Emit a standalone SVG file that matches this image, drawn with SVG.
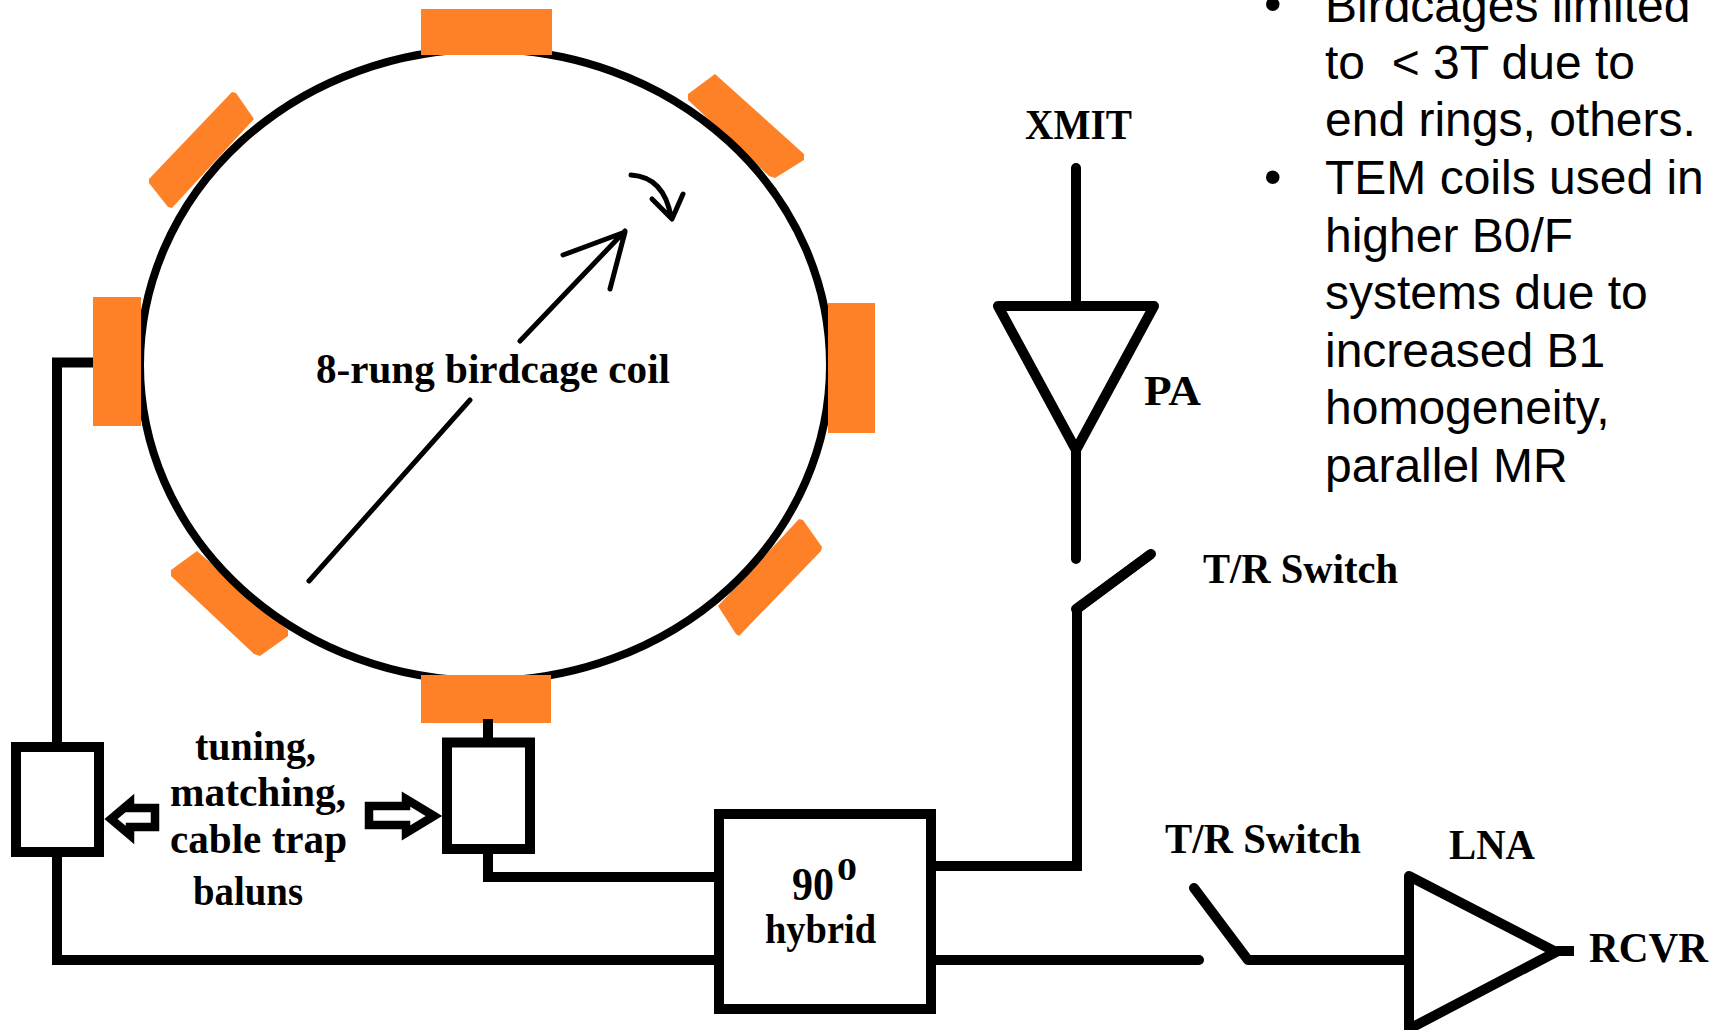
<svg xmlns="http://www.w3.org/2000/svg" width="1719" height="1030" viewBox="0 0 1719 1030">
<style>
.rung{fill:#fe8127;stroke:none}
.w{fill:none;stroke:#000;stroke-width:10;stroke-linecap:butt;stroke-linejoin:miter}
.r{stroke-linecap:round;stroke-linejoin:round}
.t{fill:none;stroke:#000;stroke-width:5;stroke-linecap:round;stroke-linejoin:round}
.box{fill:#fff;stroke:#000;stroke-width:10}
.arr{fill:#fff;stroke:#000;stroke-width:8.500;stroke-linejoin:miter}
.lb{font-family:"Liberation Serif","Times New Roman",serif;font-weight:700;font-size:43px;fill:#000}
.bl{font-family:"Liberation Sans",Arial,sans-serif;font-size:48px;fill:#000}
.bu{font-family:"Liberation Sans",Arial,sans-serif;font-size:50px;fill:#000}
</style>
<rect width="1719" height="1030" fill="#fff"/>
<g id="connectors">
<path class="w" d="M93 362.500H57V960H714"/>
<path class="w" d="M488 849V877H714"/>
<path class="w" d="M936 866H1077V609L1151 554"/>
<path class="w r" d="M1151 554L1076 609"/>
<path class="w r" d="M1076 168V306M1076 450V559"/>
<path class="w r" d="M936 960H1199"/>
<path class="w r" d="M1194 888L1248 960H1409"/>
<path class="w" d="M1556 951H1574"/>
</g>
<g id="coil">
<polygon class="rung" points="232,92 236,93 254,119 172,208 168,207 149,183 149,179"/>
<polygon class="rung" points="715,74 804,154 804,160 775,178 769,176 688,100 688,94"/>
<polygon class="rung" points="197,551 288,630 288,636 260,656 254,654 171,576 171,570"/>
<polygon class="rung" points="799,519 803,520 822,547 821,551 739,636 736,634 718,606"/>
<ellipse cx="485" cy="365" rx="345" ry="316" fill="none" stroke="#000" stroke-width="8"/>
<rect class="rung" x="421" y="9" width="131" height="46"/>
<rect class="rung" x="93" y="297" width="48" height="129"/>
<rect class="rung" x="828" y="303" width="47" height="130"/>
<rect class="rung" x="421" y="675" width="130" height="48"/>
<path class="w" d="M488 719V738"/>
<path class="t" d="M309 581L470 400M520 341L625 231M563 255L625 232L610 289"/>
<path class="t" d="M631 175Q664 177 671 217M652 199L672 219L683 194"/>
<text class="lb" x="316" y="383" textLength="354" lengthAdjust="spacingAndGlyphs">8-rung birdcage coil</text>
</g>
<g id="box-left"><rect class="box" x="16" y="747" width="83" height="105"/></g>
<g id="box-center"><rect class="box" x="447" y="742.500" width="83" height="106.500"/></g>
<g id="hybrid">
<rect class="box" x="719" y="814" width="212" height="195"/>
<text class="lb" x="792" y="900" textLength="42" lengthAdjust="spacingAndGlyphs" style="font-size:47px">90</text>
<text class="lb" x="837" y="880" textLength="20" lengthAdjust="spacingAndGlyphs" style="font-size:32px">0</text>
<text class="lb" x="765" y="943" textLength="111" lengthAdjust="spacingAndGlyphs">hybrid</text>
</g>
<g id="tuning-label">
<polygon class="arr" points="111,819 130,803 130,808 155,808 155,827 130,827 130,835"/>
<polygon class="arr" points="434,816 406,799 406,806 369,806 369,825 406,825 406,833"/>
<text class="lb" x="195" y="760" textLength="121" lengthAdjust="spacingAndGlyphs">tuning,</text>
<text class="lb" x="170" y="806" textLength="176" lengthAdjust="spacingAndGlyphs">matching,</text>
<text class="lb" x="170" y="853" textLength="177" lengthAdjust="spacingAndGlyphs">cable trap</text>
<text class="lb" x="193" y="905" textLength="110" lengthAdjust="spacingAndGlyphs">baluns</text>
</g>
<g id="pa">
<polygon points="998,306 1154,306 1076,450" fill="#fff" stroke="#000" stroke-width="10" stroke-linejoin="round"/>
<text class="lb" x="1144" y="405" textLength="57" lengthAdjust="spacingAndGlyphs">PA</text>
</g>
<text id="xmit" class="lb" x="1025" y="139" textLength="107" lengthAdjust="spacingAndGlyphs">XMIT</text>
<text id="tr-switch-1" class="lb" x="1203" y="583" textLength="195" lengthAdjust="spacingAndGlyphs">T/R Switch</text>
<text id="tr-switch-2" class="lb" x="1165" y="853" textLength="196" lengthAdjust="spacingAndGlyphs">T/R Switch</text>
<g id="lna">
<polygon points="1409,876 1556,952 1409,1029" fill="#fff" stroke="#000" stroke-width="10" stroke-linejoin="round"/>
<text class="lb" x="1449" y="859" textLength="86" lengthAdjust="spacingAndGlyphs">LNA</text>
</g>
<text id="rcvr" class="lb" x="1589" y="962" textLength="119" lengthAdjust="spacingAndGlyphs">RCVR</text>
<g id="notes">
<text class="bu" x="1264" y="21">•</text>
<text class="bl" x="1325" y="21.500">Birdcages limited</text>
<text class="bl" x="1325" y="79" xml:space="preserve">to  &lt; 3T due to</text>
<text class="bl" x="1325" y="136">end rings, others.</text>
<text class="bu" x="1264" y="194">•</text>
<text class="bl" x="1325" y="194">TEM coils used in</text>
<text class="bl" x="1325" y="252">higher B0/F</text>
<text class="bl" x="1325" y="309">systems due to</text>
<text class="bl" x="1325" y="367">increased B1</text>
<text class="bl" x="1325" y="424">homogeneity,</text>
<text class="bl" x="1325" y="482">parallel MR</text>
</g>
</svg>
